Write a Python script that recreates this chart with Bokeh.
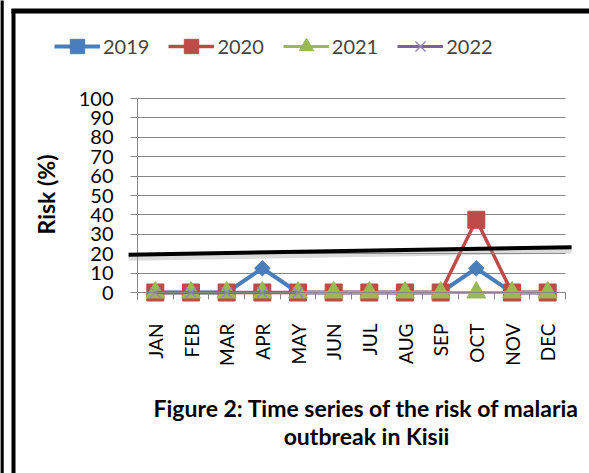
import math
from bokeh.plotting import figure
from bokeh.models import (Range1d, LinearAxis, FixedTicker, Legend, LegendItem,
                          Label, Arrow, Grid)
from bokeh.embed import file_html
from bokeh.resources import INLINE

months = ["JAN", "FEB", "MAR", "APR", "MAY", "JUN",
          "JUL", "AUG", "SEP", "OCT", "NOV", "DEC"]
risk_2019 = [0, 0, 0, 12.5, 0, 0, 0, 0, 0, 12.5, 0, 0]
risk_2020 = [0, 0, 0, 0, 0, 0, 0, 0, 0, 37.5, 0, 0]
risk_2021 = [0, 0, 0, 0, 0, 0, 0, 0, 0, 0, 0, 0]
nan = float("nan")
risk_2022 = [0, 0, 0, 0, 0, nan, nan, nan, nan, nan, nan, nan]
y_ticks = [0, 10, 20, 30, 40, 50, 60, 70, 80, 90, 100]
# hand-drawn threshold line (start/end in Risk %)
trend_y = [19.5, 23.3]

n = len(months)
x = [i + 0.5 for i in range(n)]
bounds = list(range(n + 1))

C19, C20, C21, C22 = "#4A7EBB", "#BE4B48", "#98B954", "#7D60A0"
GRAY = "#868686"
FONT = "Lato"

W, H = 589, 473
# plot area in canvas pixels
PL, PR, PT, PB = 137, 565, 98, 292
xs = (PR - PL) / n
ys = (PB - PT) / 100.0
x_range = Range1d(-PL / xs, n + (W - PR) / xs)
y_range = Range1d(-(H - PB) / ys, 100 + PT / ys)

p = figure(width=W, height=H, x_range=x_range, y_range=y_range,
           output_backend="svg", toolbar_location=None,
           x_axis_location=None, y_axis_location=None, min_border=0)
p.outline_line_color = None
p.background_fill_color = "white"
p.border_fill_color = "white"
p.center = [r for r in p.center if not isinstance(r, Grid)]

p.add_layout(Grid(dimension=1, ticker=FixedTicker(ticks=y_ticks[1:]),
                  grid_line_color=GRAY, grid_line_width=1, cross_bounds=(0, n)))

yaxis = LinearAxis(fixed_location=0, bounds=(-3.6, 100),
                   ticker=FixedTicker(ticks=y_ticks), axis_line_color=GRAY,
                   major_tick_line_color=GRAY, major_tick_out=7, major_tick_in=0,
                   minor_tick_out=0, minor_tick_in=0, major_label_standoff=17,
                   major_label_text_font=FONT, major_label_text_font_size="20px",
                   major_label_text_color="black")
p.add_layout(yaxis, "left")

xaxis = LinearAxis(fixed_location=0, bounds=(0, n),
                   ticker=FixedTicker(ticks=x, minor_ticks=bounds),
                   major_label_overrides={xi: m for xi, m in zip(x, months)},
                   major_tick_out=0, major_tick_in=0,
                   minor_tick_out=7, minor_tick_in=0, minor_tick_line_color=GRAY,
                   axis_line_color=GRAY, major_label_orientation=math.pi / 2,
                   major_label_standoff=24, major_label_text_font=FONT,
                   major_label_text_font_size="19px", major_label_text_color="black")
p.add_layout(xaxis, "below")

r1l = p.line(x, risk_2019, line_color=C19, line_width=4)
r1m = p.scatter(x, risk_2019, marker="square", angle=math.pi / 4, size=11,
                fill_color=C19, line_color=C19)
r2l = p.line(x, risk_2020, line_color=C20, line_width=3.5)
r2m = p.scatter(x, risk_2020, marker="square", size=17, fill_color=C20, line_color=C20)
r3l = p.line(x, risk_2021, line_color=C21, line_width=3)
r3m = p.scatter(x, risk_2021, marker="triangle", size=19, fill_color=C21, line_color=C21)
r4l = p.line(x, risk_2022, line_color=C22, line_width=3)
r4m = p.scatter(x, risk_2022, marker="x", size=14, line_color="#9A86BA", line_width=1.5)

# threshold line with soft shadow
p.add_layout(Arrow(end=None, x_start=-0.25, y_start=trend_y[0] - 1.6,
                   x_end=n + 0.17, y_end=trend_y[1] - 1.6,
                   line_color="#999999", line_alpha=0.35, line_width=6))
p.add_layout(Arrow(end=None, x_start=-0.25, y_start=trend_y[0],
                   x_end=n + 0.17, y_end=trend_y[1],
                   line_color="black", line_width=4))

GH = 36
legend = Legend(items=[LegendItem(label="2019", renderers=[r1l, r1m]),
                       LegendItem(label="2020", renderers=[r2l, r2m]),
                       LegendItem(label="2021", renderers=[r3l, r3m]),
                       LegendItem(label="2022", renderers=[r4l, r4m])],
                orientation="horizontal", location=(54, H - 46 - GH / 2),
                padding=0, margin=0,
                border_line_color=None, background_fill_alpha=0,
                label_text_font=FONT, label_text_font_size="20px",
                glyph_width=46, glyph_height=GH, label_height=20,
                label_standoff=3, spacing=19)
p.add_layout(legend)

p.add_layout(Label(x=45, y=H - 194, x_units="screen", y_units="screen",
                   text="Risk (%)", angle=math.pi / 2,
                   text_align="center", text_baseline="middle", text_font=FONT,
                   text_font_style="bold", text_font_size="23px", text_color="black"))
p.add_layout(Label(x=366, y=H - 407, x_units="screen", y_units="screen",
                   text="Figure 2: Time series of the risk of malaria",
                   text_align="center", text_baseline="middle", text_font=FONT,
                   text_font_style="bold", text_font_size="23px", text_color="black"))
p.add_layout(Label(x=366, y=H - 435, x_units="screen", y_units="screen",
                   text="outbreak in Kisii",
                   text_align="center", text_baseline="middle", text_font=FONT,
                   text_font_style="bold", text_font_size="23px", text_color="black"))

# page frame lines
p.add_layout(Arrow(end=None, x_start=1.5, y_start=H + 3, x_end=1.5, y_end=-5,
                   start_units="screen", end_units="screen",
                   line_color="black", line_width=3.5))
p.add_layout(Arrow(end=None, x_start=13, y_start=H - 8.5, x_end=13, y_end=-5,
                   start_units="screen", end_units="screen",
                   line_color="black", line_width=4))
p.add_layout(Arrow(end=None, x_start=11, y_start=H - 10.5, x_end=W + 5, y_end=H - 10.5,
                   start_units="screen", end_units="screen",
                   line_color="black", line_width=5))

open("out.html", "w").write(file_html(p, INLINE))
